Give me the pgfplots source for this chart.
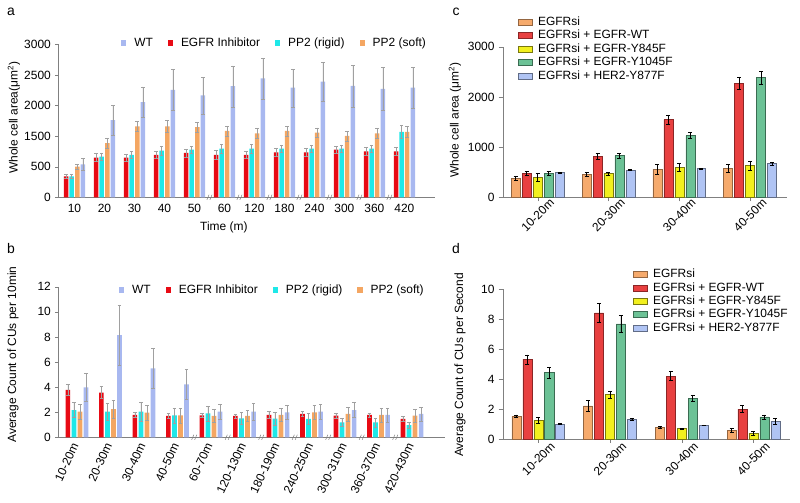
\documentclass[border=0pt]{standalone}
\usepackage{fontspec}
\setmainfont{Liberation Sans}
\usepackage{pgfplots}
\pgfplotsset{compat=1.18}

\definecolor{wt}{RGB}{168,184,240}
\definecolor{egfri}{RGB}{232,10,20}
\definecolor{pprig}{RGB}{30,232,232}
\definecolor{ppsoft}{RGB}{244,166,98}
\definecolor{cA}{RGB}{246,170,108}
\definecolor{cB}{RGB}{232,64,64}
\definecolor{cC}{RGB}{242,240,30}
\definecolor{cD}{RGB}{108,194,150}
\definecolor{cE}{RGB}{176,196,244}
\definecolor{axgray}{RGB}{128,128,128}
\definecolor{errgray}{RGB}{160,160,160}

\pgfdeclareplotmark{brk}{%
 \pgfpathmoveto{\pgfqpoint{-2.6pt}{-2.6pt}}\pgfpathlineto{\pgfqpoint{-0.4pt}{2.6pt}}%
 \pgfpathmoveto{\pgfqpoint{0.4pt}{-2.6pt}}\pgfpathlineto{\pgfqpoint{2.6pt}{2.6pt}}%
 \pgfusepathqstroke}

\pgfplotsset{
 base/.style={scale only axis, axis lines=left, axis line style={axgray,-},
   tick style={axgray}, tick align=outside, major tick length=3pt,
   font=\fontsize{12}{14}\selectfont,
   ticklabel style={font=\fontsize{12}{14}\selectfont},
   /pgf/number format/assume math mode=true, /pgf/number format/1000 sep={},
   clip=false, ymin=0, legend cell align=left},
 graystyle/.style={error bars/y dir=both, error bars/y explicit,
   error bars/error bar style={errgray, line width=0.5pt},
   error bars/error mark options={rotate=90, errgray, mark size=1.8pt},
   legend image code/.code={\fill[##1] (0pt,-2.6pt) rectangle (5.2pt,2.6pt);},
   legend style={draw=none, fill=none, inner sep=0pt,
     nodes={inner sep=1pt, text height=9pt, text depth=2.5pt},
     /tikz/every odd column/.append style={column sep=7pt},
     /tikz/every even column/.append style={column sep=14pt}},
   legend columns=4},
 blackstyle/.style={error bars/y dir=both, error bars/y explicit,
   error bars/error bar style={black, line width=0.6pt},
   error bars/error mark options={rotate=90, black, mark size=2pt},
   legend image code/.code={\draw[##1] (0pt,-3pt) rectangle (14pt,3pt);},
   legend style={draw=none, fill=none, inner sep=0pt, row sep=0pt,
     nodes={inner sep=0.5pt, text height=9.5pt, text depth=3pt},
     /tikz/every odd column/.append style={column sep=5pt}}},
}

\begin{document}
\begin{tikzpicture}
\useasboundingbox (0,0) rectangle (800bp,503bp);
\fontsize{12}{14}\selectfont

% ---------------- panel a ----------------
\begin{axis}[base, graystyle,
  at={(58bp,305.7bp)}, anchor=south west, width=377bp, height=153bp,
  xmin=-0.55, xmax=12.02, ymax=2500,
  ytick={0,500,1000,1500,2000,2500}, yticklabels={0,500,1500,2000,2500,3000},
  xtick={0,...,11}, xticklabels={10,20,30,40,50,60,120,180,240,300,360,420},
  xtick style={draw=none},
  ylabel={Whole cell area(μm\textsuperscript{2})},
  ylabel style={at={(axis description cs:-0.117,0.52)}, anchor=center},
  xlabel={Time (m)},
  xlabel style={at={(axis description cs:0.44,-0.194)}, anchor=center},
  legend style={at={(axis description cs:0.979,1.008)}, anchor=east},
]
\addplot[ybar, bar width=0.15, fill=wt, draw=none] coordinates {
 (0.28,537) +- (0,97) (1.28,1261) +- (0,240) (2.28,1557) +- (0,250) (3.28,1755) +- (0,340)
 (4.28,1665) +- (0,300) (5.28,1815) +- (0,335) (6.28,1943) +- (0,335) (7.28,1790) +- (0,310)
 (8.28,1890) +- (0,320) (9.28,1820) +- (0,340) (10.28,1771) +- (0,350) (11.28,1790) +- (0,340)};
\addplot[ybar, bar width=0.15, fill=egfri, draw=none] coordinates {
 (-0.28,343) +- (0,37) (0.72,649) +- (0,64) (1.72,649) +- (0,55) (2.72,692) +- (0,60)
 (3.72,725) +- (0,64) (4.72,692) +- (0,70) (5.72,692) +- (0,60) (6.72,735) +- (0,60)
 (7.72,735) +- (0,60) (8.72,778) +- (0,60) (9.72,751) +- (0,60) (10.72,751) +- (0,60)};
\addplot[ybar, bar width=0.15, fill=pprig, draw=none] coordinates {
 (-0.093,343) +- (0,30) (0.907,665) +- (0,60) (1.907,692) +- (0,60) (2.907,761) +- (0,80)
 (3.907,778) +- (0,53) (4.907,794) +- (0,75) (5.907,794) +- (0,70) (6.907,794) +- (0,60)
 (7.907,794) +- (0,60) (8.907,794) +- (0,60) (9.907,794) +- (0,60) (10.907,1067) +- (0,108)};
\addplot[ybar, bar width=0.15, fill=ppsoft, draw=none] coordinates {
 (0.093,500) +- (0,48) (1.093,885) +- (0,75) (2.093,1159) +- (0,86) (3.093,1159) +- (0,95)
 (4.093,1148) +- (0,80) (5.093,1084) +- (0,85) (6.093,1046) +- (0,80) (7.093,1084) +- (0,80)
 (8.093,1057) +- (0,80) (9.093,1003) +- (0,80) (10.093,1046) +- (0,80) (11.093,1067) +- (0,90)};
\addplot[only marks, mark=brk, mark options={axgray, line width=0.5pt}, forget plot,
  error bars/y dir=none] coordinates {(4.5,0) (5.5,0) (6.5,0) (7.5,0) (8.5,0) (9.5,0) (10.5,0)};
\legend{WT, EGFR Inhibitor, PP2 (rigid), PP2 (soft)}
\end{axis}

% ---------------- panel b ----------------
\begin{axis}[base, graystyle,
  at={(58bp,65.7bp)}, anchor=south west, width=387bp, height=150.6bp,
  xmin=-0.567, xmax=10.985, ymax=12, ytick={0,2,...,12},
  xtick={0,...,10},
  xticklabels={10-20m,20-30m,30-40m,40-50m,60-70m,120-130m,180-190m,240-250m,300-310m,360-370m,420-430m},
  xtick style={draw=none},
  xticklabel style={rotate=65, anchor=east},
  ylabel={Average Count of CUs per 10min},
  ylabel style={at={(axis description cs:-0.116,0.55)}, anchor=center},
  legend style={at={(axis description cs:0.948,0.978)}, anchor=east},
]
\addplot[ybar, bar width=0.137, fill=wt, draw=none] coordinates {
 (0.27,3.98) +- (0,1.1) (1.27,8.15) +- (0,2.4) (2.27,5.5) +- (0,1.6) (3.27,4.22) +- (0,1.2)
 (4.27,2.04) +- (0,0.63) (5.27,2.04) +- (0,0.65) (6.27,1.99) +- (0,0.53) (7.27,2.04) +- (0,0.6)
 (8.27,2.17) +- (0,0.6) (9.27,1.78) +- (0,0.55) (10.27,1.86) +- (0,0.55)};
\addplot[ybar, bar width=0.137, fill=egfri, draw=none] coordinates {
 (-0.27,3.77) +- (0,0.45) (0.73,3.56) +- (0,0.48) (1.73,1.78) +- (0,0.2) (2.73,1.70) +- (0,0.2)
 (3.73,1.75) +- (0,0.15) (4.73,1.70) +- (0,0.15) (5.73,1.78) +- (0,0.26) (6.73,1.86) +- (0,0.2)
 (7.73,1.72) +- (0,0.2) (8.73,1.78) +- (0,0.15) (9.73,1.46) +- (0,0.2)};
\addplot[ybar, bar width=0.137, fill=pprig, draw=none] coordinates {
 (-0.09,2.17) +- (0,0.6) (0.91,2.04) +- (0,0.7) (1.91,2.04) +- (0,0.75) (2.91,1.75) +- (0,0.6)
 (3.91,1.90) +- (0,0.6) (4.91,1.51) +- (0,0.5) (5.91,1.48) +- (0,0.5) (6.91,1.46) +- (0,0.45)
 (7.91,1.19) +- (0,0.3) (8.91,1.19) +- (0,0.35) (9.91,0.98) +- (0,0.25)};
\addplot[ybar, bar width=0.137, fill=ppsoft, draw=none] coordinates {
 (0.09,2.04) +- (0,0.6) (1.09,2.25) +- (0,0.7) (2.09,1.96) +- (0,0.6) (3.09,1.75) +- (0,0.6)
 (4.09,1.70) +- (0,0.5) (5.09,1.70) +- (0,0.45) (6.09,1.78) +- (0,0.5) (7.09,1.99) +- (0,0.55)
 (8.09,1.86) +- (0,0.55) (9.09,1.78) +- (0,0.55) (10.09,1.72) +- (0,0.5)};
\addplot[only marks, mark=brk, mark options={axgray, line width=0.5pt}, forget plot,
  error bars/y dir=none] coordinates {(3.5,0) (4.5,0) (5.5,0) (6.5,0) (7.5,0) (8.5,0) (9.5,0)};
\legend{WT, EGFR Inhibitor, PP2 (rigid), PP2 (soft)}
\end{axis}

% ---------------- panel c ----------------
\begin{axis}[base, blackstyle,
  at={(502.7bp,305.7bp)}, anchor=south west, width=284bp, height=150.6bp,
  xmin=-0.494, xmax=3.517, ymax=3000, ytick={0,1000,2000,3000},
  xtick={0,...,3}, xticklabels={10-20m,20-30m,30-40m,40-50m},
  major tick length=4pt,
  xticklabel style={anchor=center, yshift=-14pt, rotate=45},
  ylabel={Whole cell area (μm\textsuperscript{2})},
  ylabel style={at={(axis description cs:-0.168,0.513)}, anchor=center},
  legend style={at={(axis description cs:0.054,1.21)}, anchor=north west},
]
\addplot[ybar, bar width=0.127, fill=cA, draw=cA!60!black, line width=0.5pt] coordinates {
 (-0.31,377) +- (0,45) (0.69,463) +- (0,33) (1.69,563) +- (0,100) (2.69,583) +- (0,80)};
\addplot[ybar, bar width=0.127, fill=cB, draw=cB!60!black, line width=0.5pt] coordinates {
 (-0.155,483) +- (0,33) (0.845,821) +- (0,53) (1.845,1549) +- (0,93) (2.845,2271) +- (0,126)};
\addplot[ybar, bar width=0.127, fill=cC, draw=cC!50!black, line width=0.5pt] coordinates {
 (0,404) +- (0,75) (1,470) +- (0,26) (2,602) +- (0,80) (3,629) +- (0,86)};
\addplot[ybar, bar width=0.127, fill=cD, draw=cD!55!black, line width=0.5pt] coordinates {
 (0.155,483) +- (0,40) (1.155,828) +- (0,53) (2.155,1231) +- (0,60) (3.155,2383) +- (0,132)};
\addplot[ybar, bar width=0.127, fill=cE, draw=cE!55!black, line width=0.5pt] coordinates {
 (0.31,490) +- (0,13) (1.31,543) +- (0,13) (2.31,576) +- (0,7) (3.31,669) +- (0,26)};
\legend{EGFRsi, EGFRsi + EGFR-WT, EGFRsi + EGFR-Y845F, EGFRsi + EGFR-Y1045F, EGFRsi + HER2-Y877F}
\end{axis}

% ---------------- panel d ----------------
\begin{axis}[base, blackstyle,
  at={(502.7bp,64bp)}, anchor=south west, width=287bp, height=149.7bp,
  xmin=-0.497, xmax=3.506, ymax=10, ytick={0,2,...,10},
  xtick={0,...,3}, xticklabels={10-20m,20-30m,30-40m,40-50m},
  major tick length=4pt,
  xticklabel style={anchor=center, yshift=-16pt, rotate=45},
  ylabel={Average Count of CUs per Second},
  ylabel style={at={(axis description cs:-0.149,0.494)}, anchor=center},
  legend style={at={(axis description cs:0.454,1.146)}, anchor=north west},
]
\addplot[ybar, bar width=0.126, fill=cA, draw=cA!60!black, line width=0.5pt] coordinates {
 (-0.305,1.53) +- (0,0.09) (0.695,2.22) +- (0,0.35) (1.695,0.80) +- (0,0.05) (2.695,0.58) +- (0,0.13)};
\addplot[ybar, bar width=0.126, fill=cB, draw=cB!60!black, line width=0.5pt] coordinates {
 (-0.153,5.33) +- (0,0.3) (0.847,8.42) +- (0,0.62) (1.847,4.20) +- (0,0.3) (2.847,2.00) +- (0,0.24)};
\addplot[ybar, bar width=0.126, fill=cC, draw=cC!50!black, line width=0.5pt] coordinates {
 (0,1.24) +- (0,0.2) (1,2.96) +- (0,0.22) (2,0.69) +- (0,0.04) (3,0.40) +- (0,0.13)};
\addplot[ybar, bar width=0.126, fill=cD, draw=cD!55!black, line width=0.5pt] coordinates {
 (0.152,4.44) +- (0,0.35) (1.152,7.69) +- (0,0.55) (2.152,2.73) +- (0,0.18) (3.152,1.47) +- (0,0.15)};
\addplot[ybar, bar width=0.126, fill=cE, draw=cE!55!black, line width=0.5pt] coordinates {
 (0.305,1.00) +- (0,0.03) (1.305,1.31) +- (0,0.07) (2.305,0.93) +- (0,0.02) (3.305,1.18) +- (0,0.22)};
\legend{EGFRsi, EGFRsi + EGFR-WT, EGFRsi + EGFR-Y845F, EGFRsi + EGFR-Y1045F, EGFRsi + HER2-Y877F}
\end{axis}

% panel letters
\node[font=\fontsize{14}{16}\selectfont] at (11bp,491bp) {a};
\node[font=\fontsize{14}{16}\selectfont] at (11bp,254bp) {b};
\node[font=\fontsize{14}{16}\selectfont] at (456bp,491bp) {c};
\node[font=\fontsize{14}{16}\selectfont] at (456bp,254bp) {d};
\end{tikzpicture}
\end{document}
